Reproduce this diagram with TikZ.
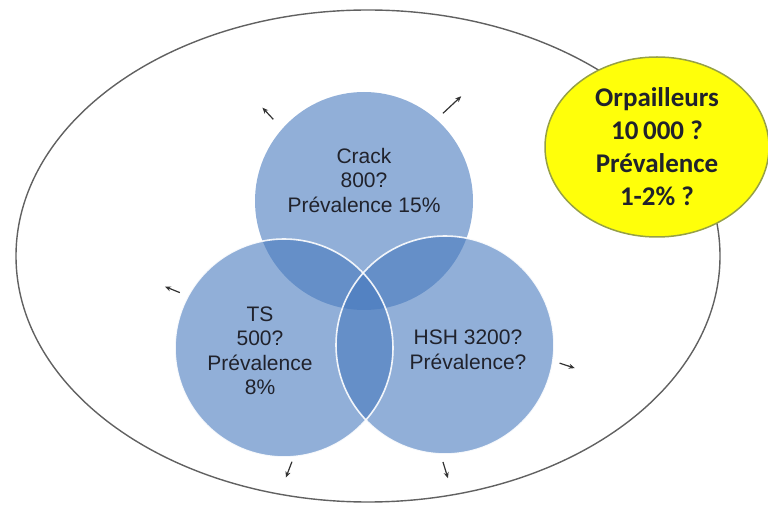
\documentclass[tikz,border=0pt]{standalone}
\usepackage{fontspec}
\setmainfont{Liberation Sans}
\newfontfamily\orpfont{Carlito}
\usetikzlibrary{shapes,calc,arrows.meta,positioning}
\definecolor{vennblue}{RGB}{72,122,190}
\definecolor{txtgray}{RGB}{32,34,44}
\definecolor{bubbleline}{RGB}{150,160,70}
\definecolor{bubblefill}{RGB}{255,255,10}
\tikzset{
	outline/.style={ellipse,draw=black!62,line width=1.4,minimum width=704,minimum height=492,inner sep=0,outer sep=0},
	group/.style={circle,fill=vennblue,fill opacity=.6,minimum size=218,inner sep=0,outer sep=0},
	rim/.style={draw=white,line width=1.6,opacity=.9},
	grouplabel/.style={align=center,text=txtgray,font=\fontsize{21}{24.5}\selectfont},
	bubble/.style={ellipse,fill=bubblefill,draw=bubbleline,line width=1.5,minimum width=224,minimum height=180,inner sep=0,align=center,font=\orpfont\bfseries\fontsize{27}{33}\selectfont,text=txtgray},
	outedge/.style={-{Stealth[length=6,width=5]},draw=black!80,line width=1.2}
}
\begin{document}
\begin{tikzpicture}[x=1pt,y=1pt]
	\useasboundingbox (0,0) rectangle (768,506);
	
	%%whole population
	\node[outline] (pop) at (368,250) {};
	
	%%the three groups
	\node[group] (crack) at (364,305) {};
	\node[group] (ts) at (284,158) {};
	\node[group] (hsh) at (445,161) {};
	%white rims of TS and HSH on top
	\draw[rim] (ts.center) circle[radius=109];
	\draw[rim] (hsh.center) circle[radius=109];
	
	\node[grouplabel] (cracktxt) at ([yshift=21]crack.center) {Crack\\800?\\Prévalence 15\%};
	\node[grouplabel] (tstxt) at ([shift={(-24,-3)}]ts.center) {TS\\500?\\Prévalence\\8\%};
	\node[grouplabel] (hshtxt) at ([shift={(23,-5)}]hsh.center) {HSH 3200?\\Prévalence?};
	
	%%gold miners
	\node[bubble] (orp) at (657,359) {Orpailleurs\\10\,000 ?\\Prévalence\\1-2\% ?};
	
	%%small arrows going out
	\foreach \c/\a/\g/\d/\l in {crack/138/13/133/16, crack/48/9/43/25, ts/152/9/158/16, hsh/351/7/342/16, ts/274/5/249/17, hsh/269/8/287/17}
		\draw[outedge] ([shift={(\a:\g)}]\c.\a) -- ++(\d:\l);
	
\end{tikzpicture}
\end{document}
